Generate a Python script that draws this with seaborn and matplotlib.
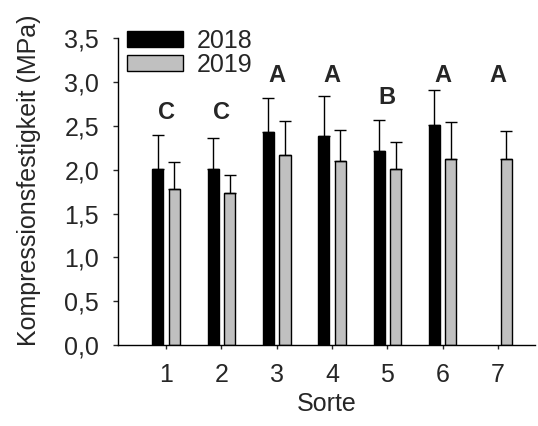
import numpy as np
import pandas as pd
import matplotlib
matplotlib.use("Agg")
import matplotlib.pyplot as plt
import seaborn as sns
from matplotlib.patches import Patch

# ---- data ----
sorte = ["1", "2", "3", "4", "5", "6", "7"]
years = ["2018", "2019"]
mean_2018 = [2.01, 2.01, 2.43, 2.39, 2.21, 2.505, np.nan]
sd_2018 = [0.39, 0.355, 0.39, 0.45, 0.36, 0.405, np.nan]
mean_2019 = [1.785, 1.73, 2.17, 2.10, 2.01, 2.12, 2.12]
sd_2019 = [0.305, 0.21, 0.39, 0.35, 0.305, 0.42, 0.325]
letters = ["C", "C", "A", "A", "B", "A", "A"]
letter_y = [2.65, 2.65, 3.07, 3.07, 2.83, 3.08, 3.07]
yticks = [0.0, 0.5, 1.0, 1.5, 2.0, 2.5, 3.0, 3.5]
ytick_labels = ["0,0", "0,5", "1,0", "1,5", "2,0", "2,5", "3,0", "3,5"]
colors = {"2018": "#000000", "2019": "#c0c0c0"}

df = pd.DataFrame({
    "Sorte": sorte * 2,
    "Jahr": ["2018"] * len(sorte) + ["2019"] * len(sorte),
    "mean": mean_2018 + mean_2019,
    "sd": sd_2018 + sd_2019,
})

sns.set_style("white")
plt.rcParams["font.family"] = ["Liberation Sans", "DejaVu Sans"]
FS = 18

W, H = 538, 426
fig = plt.figure(figsize=(W / 100, H / 100), dpi=100)
ax = fig.add_axes([118 / W, (H - 345) / H, (535 - 118) / W, (345 - 38.3) / H])

sns.barplot(data=df, x="Sorte", y="mean", hue="Jahr", order=sorte, hue_order=years,
            palette=colors, width=0.6, gap=1 / 3, edgecolor="black", linewidth=1.0,
            errorbar=None, legend=False, ax=ax, saturation=1)

# error bars (upper only), positions taken from the drawn bars
for cont, vals, sds in zip(ax.containers, [mean_2018, mean_2019], [sd_2018, sd_2019]):
    xs, ys, es = [], [], []
    for rect, v, s in zip(cont.patches, vals, sds):
        if np.isnan(v):
            continue
        xs.append(rect.get_x() + rect.get_width() / 2)
        ys.append(v)
        es.append(s)
    ax.errorbar(xs, ys, yerr=[np.zeros(len(es)), es], fmt="none", ecolor="black",
                elinewidth=1.0, capsize=4, capthick=1.0, zorder=1)

for i, (lab, ly) in enumerate(zip(letters, letter_y)):
    ax.text(i, ly, lab, ha="center", va="center", fontsize=17, fontweight="bold")

ax.set_xlim(-0.87, 6.67)
ax.set_ylim(0, 3.5)
ax.set_yticks(yticks)
ax.set_yticklabels(ytick_labels)
ax.tick_params(axis="y", direction="out", length=3.6, width=1.0, pad=10, labelsize=FS, left=True)
ax.tick_params(axis="x", direction="out", length=3.2, width=1.0, pad=9.5, labelsize=FS, bottom=True)
ax.set_xlabel("Sorte", fontsize=FS, labelpad=4)
ax.set_ylabel("Kompressionsfestigkeit (MPa)", fontsize=FS)
ax.yaxis.set_label_coords(-0.185, 0.537)
for s in ["top", "right"]:
    ax.spines[s].set_visible(False)
for s in ["left", "bottom"]:
    ax.spines[s].set_color("black")
    ax.spines[s].set_linewidth(1.0)

handles = [Patch(facecolor=colors[y], edgecolor="black", linewidth=1.0) for y in years]
fig.legend(handles, years, loc="upper left", bbox_to_anchor=(127 / W, 1 - 29 / H),
           frameon=False, borderpad=0, borderaxespad=0, fontsize=FS,
           handlelength=2.24, handleheight=0.6, handletextpad=0.56, labelspacing=0.0)

fig.savefig("out.png", dpi=100, facecolor="white")
